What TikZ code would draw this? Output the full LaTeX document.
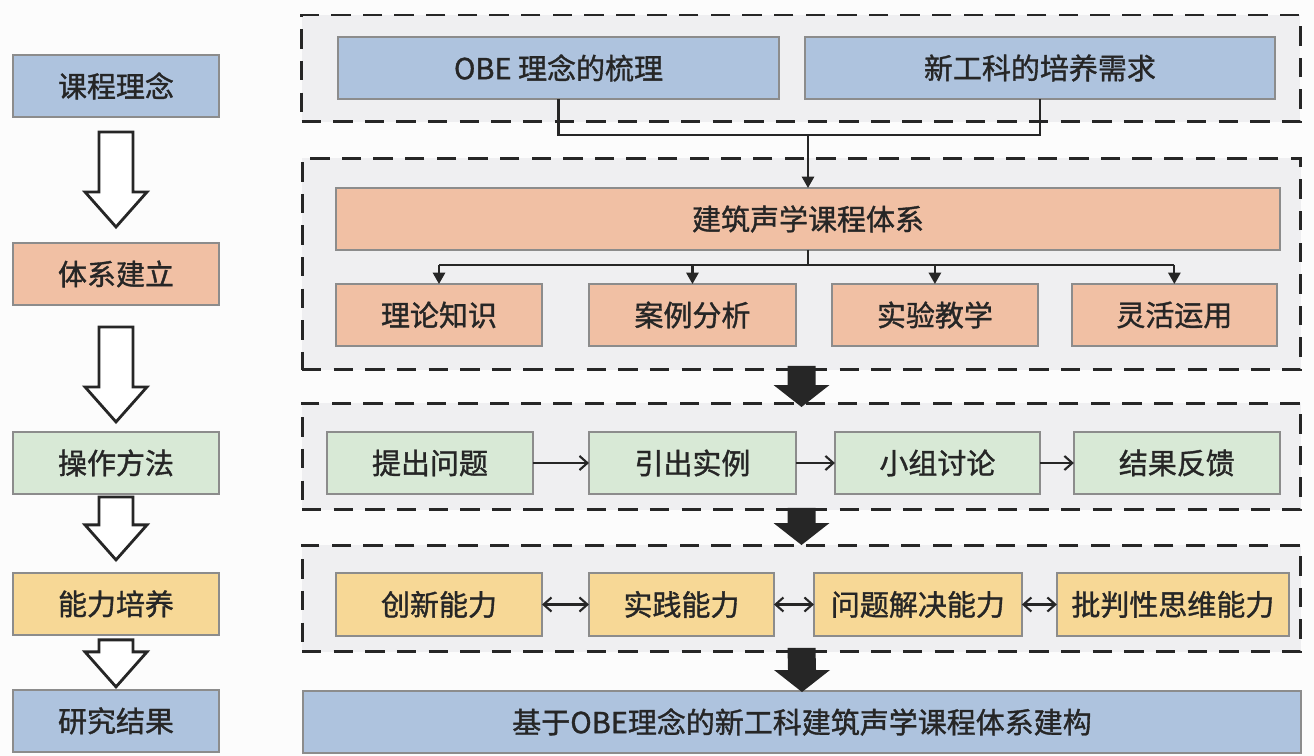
\documentclass[tikz,border=0pt]{standalone}
\usepackage{fontspec}
\usepackage{xcolor}
\usepackage{tikz}
\usetikzlibrary{arrows.meta,positioning,calc}
\newfontfamily\cjk[FakeBold=1.2]{Noto Sans CJK SC}
\definecolor{bluebox}{HTML}{AEC3DE}
\definecolor{salmonbox}{HTML}{F1C0A4}
\definecolor{greenbox}{HTML}{D8E9D6}
\definecolor{yellowbox}{HTML}{F7D896}
\definecolor{framefill}{HTML}{EFEFF1}
\definecolor{ink}{HTML}{262626}
\definecolor{edge}{HTML}{8C8C8C}
\definecolor{paper}{HTML}{FCFCFC}
\newcommand{\hollowarrow}[4]{%
  \coordinate (ha-t) at ($(#1.south)+(0,#3)$);
  \coordinate (ha-p) at ($(#2.north)+(0,#4)$);
  \coordinate (ha-b) at ($(ha-p)+(0,-35)$);
  \draw[harrow] ($(ha-t)+(-17,0)$) -- ($(ha-t)+(17,0)$) -- ($(ha-b)+(17,0)$)
    -- ($(ha-b)+(31,0)$) -- (ha-p) -- ($(ha-b)+(-31,0)$) -- ($(ha-b)+(-17,0)$) -- cycle;}
\newcommand{\blackarrow}[4]{%
  \coordinate (ba-t) at ($(#1.south)+(0,#3)$);
  \coordinate (ba-p) at ($(#2.north)+(0,#4)$);
  \coordinate (ba-b) at ($(ba-p)+(0,-22)$);
  \fill[barrow] ($(ba-t)+(-14,0)$) -- ($(ba-t)+(14,0)$) -- ($(ba-b)+(14,0)$)
    -- ($(ba-b)+(28,0)$) -- (ba-p) -- ($(ba-b)+(-28,0)$) -- ($(ba-b)+(-14,0)$) -- cycle;}

\begin{document}
\begin{tikzpicture}[x=0.02cm, y=-0.02cm,
  box/.style={draw=edge, line width=0.8pt, outer sep=0pt, inner sep=0pt,
              minimum width=4.12cm, minimum height=1.24cm,
              font=\cjk\fontsize{16.5pt}{20pt}\selectfont, text=ink, align=center},
  bbox/.style={box, fill=bluebox},
  obox/.style={box, fill=salmonbox},
  gbox/.style={box, fill=greenbox},
  ybox/.style={box, fill=yellowbox},
  dashframe/.style={draw=ink, fill=framefill, line width=1.7pt, dash pattern=on 11pt off 7pt,
              outer sep=0pt, minimum width=19.98cm, minimum height=2.14cm},
  link/.style={draw=ink, line width=1.2pt},
  arr/.style={link, -{Triangle[width=7pt,length=6.5pt]}},
  flow/.style={link, -{Straight Barb[width=8pt,length=4.5pt]}},
  mutual/.style={link, {Straight Barb[width=8pt,length=4.5pt]}-{Straight Barb[width=8pt,length=4.5pt]}},
  harrow/.style={draw=ink, fill=white, line width=1.6pt, line join=miter},
  barrow/.style={fill=ink},
]
  \fill[paper] (0,0) rectangle (1314,756);
  \useasboundingbox (0,0) rectangle (1314,756);

  % left column
  \node[bbox] (idea) at (116,86) {课程理念};
  \node[obox, below=2.52cm of idea] (build) {体系建立};
  \node[gbox, below=2.54cm of build] (method) {操作方法};
  \node[ybox, below=1.58cm of method] (ability) {能力培养};
  \node[bbox, below=1.10cm of ability] (result) {研究结果};
  \hollowarrow{idea}{build}{15}{-16}
  \hollowarrow{build}{method}{22}{-10}
  \hollowarrow{method}{ability}{3}{-13}
  \hollowarrow{ability}{result}{5}{-3}

  % dashed groups
  \node[dashframe] (frmidea) at (801,68.5) {};
  \node[dashframe, minimum height=4.24cm] (frmsys) at (801.5,264) {};
  \node[dashframe] (frmmethod) at (801.5,456.5) {};
  \node[dashframe] (frmability) at (801.5,598.5) {};

  \node[bbox, minimum width=8.82cm] (obe) at (558.5,68) {OBE 理念的梳理};
  \node[bbox, minimum width=9.4cm, right=0.52cm of obe] (demand) {新工科的培养需求};

  \node[obox, minimum width=18.88cm] (sys) at (808,219) {建筑声学课程体系};
  \node[obox] (theory) at (439,315) {理论知识};
  \node[obox, minimum width=4.14cm, right=0.94cm of theory] (case) {案例分析};
  \node[obox, right=0.72cm of case] (exper) {实验教学};
  \node[obox, minimum width=4.1cm, right=0.68cm of exper] (apply) {灵活运用};

  \node[gbox] (ask) at (430,463) {提出问题};
  \node[gbox, minimum width=4.14cm, right=1.12cm of ask] (example) {引出实例};
  \node[gbox, minimum width=4.1cm, right=0.78cm of example] (group) {小组讨论};
  \node[gbox, right=0.68cm of group] (feedback) {结果反馈};

  \node[ybox, minimum height=1.26cm] (innov) at (439,604.5) {创新能力};
  \node[ybox, minimum height=1.26cm, minimum width=3.7cm, right=0.94cm of innov] (practice) {实践能力};
  \node[ybox, minimum height=1.26cm, minimum width=4.16cm, right=0.8cm of practice] (solve) {问题解决能力};
  \node[ybox, minimum height=1.26cm, minimum width=4.64cm, right=0.7cm of solve] (critical) {批判性思维能力};

  \node[bbox, minimum width=19.96cm] (final) at (802,722) {基于OBE理念的新工科建筑声学课程体系建构};

  % connectors
  \coordinate (merge) at ($(sys.north)+(0,-53)$);
  \draw[link] (obe.south) |- (merge) -| (demand.south);
  \draw[arr] (merge) -- (sys.north);
  \coordinate (split) at ($(sys.south)+(0,15)$);
  \draw[link] (sys.south) -- (split);
  \draw[link] (theory.north |- split) -- (apply.north |- split);
  \draw[arr] (theory.north |- split) -- (theory.north);
  \draw[arr] (case.north |- split) -- (case.north);
  \draw[arr] (exper.north |- split) -- (exper.north);
  \draw[arr] (apply.north |- split) -- (apply.north);

  \draw[flow] (ask) -- (example);
  \draw[flow] (example) -- (group);
  \draw[flow] (group) -- (feedback);

  \draw[mutual] (innov) -- (practice);
  \draw[mutual] (practice) -- (solve);
  \draw[mutual] (solve) -- (critical);

  \blackarrow{frmsys}{frmmethod}{-4}{4}
  \blackarrow{frmmethod}{frmability}{-2}{0}
  \blackarrow{frmability}{final}{-4}{1}
\end{tikzpicture}
\end{document}
